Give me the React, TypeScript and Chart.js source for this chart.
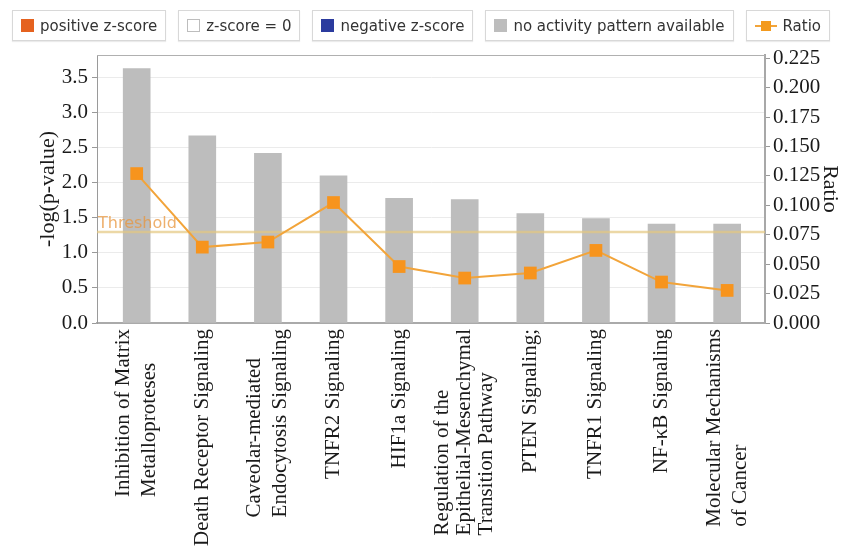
import React, { useEffect, useRef } from 'react';
import { Chart, registerables } from 'chart.js';

Chart.register(...registerables);

// ---------- data ----------
const categories: string[][] = [
  ['Inhibition of Matrix', 'Metalloproteses'],
  ['Death Receptor Signaling'],
  ['Caveolar-mediated', 'Endocytosis Signaling'],
  ['TNFR2 Signaling'],
  ['HIF1a Signaling'],
  ['Regulation of the', 'Epithelial-Mesenchymal', 'Transition Pathway'],
  ['PTEN Signaling;'],
  ['TNFR1 Signaling'],
  ['NF-κB Signaling'],
  ['Molecular Mechanisms', 'of Cancer'],
];
const logPValues = [3.63, 2.67, 2.42, 2.1, 1.78, 1.76, 1.56, 1.49, 1.41, 1.41];
const ratioValues = [0.127, 0.0645, 0.0688, 0.1024, 0.048, 0.0382, 0.0425, 0.0617, 0.0348, 0.0277];
const thresholdValue = 1.3;
const leftTicks = [0, 0.5, 1.0, 1.5, 2.0, 2.5, 3.0, 3.5];
const rightTicks = [0, 0.025, 0.05, 0.075, 0.1, 0.125, 0.15, 0.175, 0.2, 0.225];
const legendLabels = ['positive z-score', 'z-score = 0', 'negative z-score', 'no activity pattern available', 'Ratio'];

const SERIF = '"Liberation Serif", "Times New Roman", serif';
const SANS = '"DejaVu Sans", Verdana, sans-serif';

const legendSwatch = (i: number) => {
  if (i === 4) {
    return (
      <span style={{ position: 'relative', width: 22, height: 13, display: 'inline-block' }}>
        <span style={{ position: 'absolute', left: 0, right: 0, top: 6, height: 2, background: '#f2a43a' }} />
        <span style={{ position: 'absolute', left: 6, top: 2, width: 10, height: 10, background: '#f39a1e' }} />
      </span>
    );
  }
  const styles: React.CSSProperties[] = [
    { background: '#e5621f' },
    { background: '#fff', border: '1px solid #bdbdbd', boxSizing: 'border-box' },
    { background: '#2b3b9e' },
    { background: '#bdbdbd' },
  ];
  return <span style={{ width: 13, height: 13, display: 'inline-block', ...styles[i] }} />;
};

export default function App() {
  const canvasRef = useRef<HTMLCanvasElement | null>(null);

  useEffect(() => {
    const canvas = canvasRef.current;
    if (!canvas) return;

    const thresholdPlugin = {
      id: 'thresholdLine',
      afterDatasetDraw(chart: any, args: any) {
        if (args.index !== 0) return;
        const { ctx, chartArea } = chart;
        const y = chart.scales.y.getPixelForValue(thresholdValue);
        ctx.save();
        ctx.strokeStyle = 'rgba(228,200,128,0.7)';
        ctx.lineWidth = 2.5;
        ctx.beginPath();
        ctx.moveTo(chartArea.left, y);
        ctx.lineTo(chartArea.right, y);
        ctx.stroke();
        ctx.font = '16px ' + SANS;
        ctx.fillStyle = 'rgba(232,150,60,0.75)';
        ctx.textAlign = 'left';
        ctx.textBaseline = 'alphabetic';
        ctx.fillText('Threshold', chartArea.left + 1, y - 4);
        ctx.restore();
      },
    };

    const labelsPlugin = {
      id: 'rotatedLabels',
      afterDraw(chart: any) {
        const { ctx, chartArea } = chart;
        const xs = chart.scales.x;
        ctx.save();
        // top border of the plot frame
        ctx.strokeStyle = '#b0b0b0';
        ctx.lineWidth = 1;
        ctx.beginPath();
        ctx.moveTo(chartArea.left, chartArea.top + 0.5);
        ctx.lineTo(chartArea.right, chartArea.top + 0.5);
        ctx.stroke();

        ctx.font = '21px ' + SERIF;
        ctx.fillStyle = '#1a1a1a';
        ctx.textAlign = 'left';
        ctx.textBaseline = 'middle';
        const topY = chartArea.bottom + 6;
        categories.forEach((lines, i) => {
          const cx = xs.getPixelForValue(i);
          const maxW = Math.max(...lines.map((l) => ctx.measureText(l).width));
          const pitch = lines.length >= 3 ? 22 : 26;
          lines.forEach((line, j) => {
            const lx = cx + (j - (lines.length - 1) / 2) * pitch;
            ctx.save();
            ctx.translate(lx, topY + maxW);
            ctx.rotate(-Math.PI / 2);
            ctx.fillText(line, 0, 0);
            ctx.restore();
          });
        });
        ctx.restore();
      },
    };

    const chart = new Chart(canvas, {
      type: 'bar',
      data: {
        datasets: [
          {
            type: 'bar',
            label: '-log(p-value)',
            data: logPValues.map((v, i) => ({ x: i, y: v })),
            xAxisID: 'x',
            yAxisID: 'y',
            backgroundColor: '#bdbdbd',
            barThickness: 27,
            order: 1,
          } as any,
          {
            type: 'line',
            label: 'Ratio',
            data: ratioValues.map((v, i) => ({ x: i, y: v })),
            xAxisID: 'x',
            yAxisID: 'y1',
            borderColor: '#f2a43a',
            borderWidth: 2,
            pointStyle: 'rect',
            pointRadius: 9,
            pointBackgroundColor: '#f7941d',
            pointBorderColor: '#f7941d',
            pointBorderWidth: 0,
            tension: 0,
            order: 0,
          } as any,
        ],
      },
      options: {
        animation: false,
        responsive: false,
        layout: { padding: { top: 55, left: 0, right: 0, bottom: 0 } },
        plugins: { legend: { display: false }, tooltip: { enabled: false } },
        scales: {
          x: {
            type: 'linear',
            offset: false,
            min: -0.605,
            max: 9.577,
            ticks: { display: false },
            grid: { display: false, drawTicks: false, offset: false },
            border: { color: '#aaaaaa', width: 2 },
            afterFit: (s: any) => {
              s.height = 229;
            },
          },
          y: {
            position: 'left',
            min: 0,
            max: 3.824,
            afterBuildTicks: (s: any) => {
              s.ticks = leftTicks.map((v) => ({ value: v }));
            },
            afterFit: (s: any) => {
              s.width = 97;
            },
            ticks: {
              callback: (v: any) => Number(v).toFixed(1),
              font: { family: SERIF, size: 21 },
              color: '#1a1a1a',
              padding: 4,
            },
            grid: { color: '#ebebeb', tickColor: '#999999', tickLength: 5 },
            border: { color: '#9a9a9a', width: 1 },
            title: {
              display: true,
              text: '-log(p-value)',
              font: { family: SERIF, size: 22 },
              color: '#1a1a1a',
              padding: { top: 35, bottom: 0 },
            },
          },
          y1: {
            position: 'right',
            min: 0,
            max: 0.2278,
            afterBuildTicks: (s: any) => {
              s.ticks = rightTicks.map((v) => ({ value: v }));
            },
            afterFit: (s: any) => {
              s.width = 78;
            },
            ticks: {
              callback: (v: any) => Number(v).toFixed(3),
              font: { family: SERIF, size: 21 },
              color: '#1a1a1a',
              padding: 3,
            },
            grid: { drawOnChartArea: false, tickColor: '#999999', tickLength: 5 },
            border: { color: '#a8a8a8', width: 2 },
            title: {
              display: true,
              text: 'Ratio',
              font: { family: SERIF, size: 22 },
              color: '#1a1a1a',
              padding: { top: 0, bottom: 0 },
            },
          },
        },
      } as any,
      plugins: [thresholdPlugin, labelsPlugin],
    });

    return () => chart.destroy();
  }, []);

  return (
    <div style={{ position: 'absolute', left: 0, top: 0, width: 843, height: 552, background: '#fff', overflow: 'hidden' }}>
      <canvas ref={canvasRef} width={843} height={552} style={{ position: 'absolute', left: 0, top: 0 }} />
      <div style={{ position: 'absolute', left: 12, top: 10, display: 'flex', gap: 12 }}>
        {legendLabels.map((label, i) => (
          <div
            key={label}
            style={{
              display: 'flex',
              alignItems: 'center',
              gap: 6,
              height: 31,
              boxSizing: 'border-box',
              padding: '0 8px',
              border: '1px solid #d8d8d8',
              boxShadow: '0 1px 1px rgba(0,0,0,0.08)',
              background: '#fff',
              font: '15px ' + SANS,
              color: '#333',
              whiteSpace: 'nowrap',
            }}
          >
            {legendSwatch(i)}
            <span>{label}</span>
          </div>
        ))}
      </div>
    </div>
  );
}
